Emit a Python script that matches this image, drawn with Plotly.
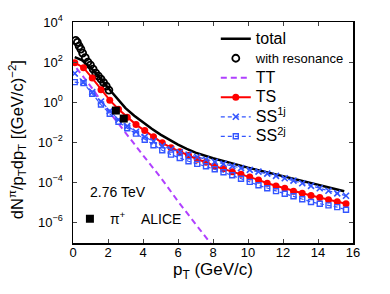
import numpy as np
import plotly.graph_objects as go

# ---- data (values given as log10 of dN/pTdpT) ----
pt_total = [0.1, 0.5, 1.0, 1.5, 2.0, 2.5, 3.0, 3.5, 4.0, 4.5, 5.0, 5.5, 6.0, 6.5,
            7.0, 8.0, 9.0, 10.0, 11.0, 12.0, 13.0, 14.0, 15.0, 15.5]
total_log10 = [2.25, 2.1, 1.72, 1.25, 0.72, 0.22, -0.3, -0.68, -1.02, -1.33, -1.62,
               -1.88, -2.12, -2.33, -2.52, -2.8, -3.04, -3.27, -3.48, -3.7, -3.92,
               -4.12, -4.33, -4.45]

pt_res = [0.15, 0.25, 0.35, 0.45, 0.55, 0.7, 0.85, 1.0, 1.15, 1.3, 1.45, 1.6, 1.75, 1.9, 2.05]
res_log10 = [3.08, 2.98, 2.8, 2.65, 2.45, 2.22, 2.0, 1.85, 1.65, 1.45, 1.3, 1.15, 0.97, 0.8, 0.6]

pt_tt = [0.2, 1.0, 2.0, 3.0, 4.0, 5.0, 6.0, 7.0, 8.0]
tt_log10 = [1.7, 0.8, -0.4, -1.55, -2.65, -3.75, -4.95, -6.08, -7.2]

pt_grid = [0.1, 0.6, 1.1, 1.6, 2.1, 2.6, 3.1, 3.6, 4.1, 4.6, 5.1, 5.6, 6.1, 6.6, 7.1, 7.6,
           8.1, 8.6, 9.1, 9.6, 10.1, 10.6, 11.1, 11.6, 12.1, 12.6, 13.1, 13.6, 14.1, 14.6,
           15.1, 15.6]
ts_log10 = [1.97, 1.72, 1.2, 0.62, 0.1, -0.35, -0.75, -1.12, -1.42, -1.73, -2.03, -2.27,
            -2.47, -2.65, -2.85, -3.0, -3.2, -3.33, -3.47, -3.6, -3.73, -3.88, -4.05,
            -4.18, -4.3, -4.45, -4.55, -4.66, -4.76, -4.87, -4.97, -5.07]
ss1_log10 = [1.43, 1.0, 0.5, 0.03, -0.45, -0.88, -1.2, -1.48, -1.73, -1.96, -2.18, -2.35,
             -2.5, -2.62, -2.74, -2.86, -2.98, -3.08, -3.19, -3.29, -3.38, -3.47, -3.57,
             -3.68, -3.8, -3.92, -4.05, -4.18, -4.3, -4.42, -4.55, -4.67]
ss2_log10 = [1.0, 0.95, 0.42, -0.12, -0.58, -0.98, -1.3, -1.57, -1.88, -2.15, -2.4, -2.62,
             -2.79, -2.95, -3.08, -3.2, -3.35, -3.5, -3.65, -3.82, -3.98, -4.15, -4.3,
             -4.44, -4.57, -4.7, -4.85, -4.98, -5.07, -5.15, -5.24, -5.37]

pt_alice = [2.45, 2.9]
alice_log10 = [-0.42, -0.82]

x_ticks = [0, 2, 4, 6, 8, 10, 12, 14, 16]
y_ticks = [1e-6, 1e-4, 1e-2, 1e0, 1e2, 1e4]
y_ticktext = ["10<sup>\u22126</sup>", "10<sup>\u22124</sup>", "10<sup>\u22122</sup>",
              "10<sup>0</sup>", "10<sup>2</sup>", "10<sup>4</sup>"]

FONT = "Arial, Liberation Sans, Helvetica, sans-serif"
BLUE = "#3355ff"
PURPLE = "#b040ff"
NB = "\u00a0"


def v(a):
    return 10 ** np.array(a, dtype=float)


def big(s, px=16):
    return f"<span style='font-size:{px}px'>{s}</span>"


fig = go.Figure()
fig.add_trace(go.Scatter(x=pt_total, y=v(total_log10), mode="lines", name=big("total"),
                         line=dict(color="black", width=2.5)))
fig.add_trace(go.Scatter(x=pt_res, y=v(res_log10), mode="markers",
                         name=big("with resonance", 13),
                         marker=dict(symbol="circle-open", color="black", size=7,
                                     line=dict(width=1.8, color="black"))))
fig.add_trace(go.Scatter(x=pt_tt, y=v(tt_log10), mode="lines", name=big("TT"),
                         line=dict(color=PURPLE, width=2, dash="6px,4px")))
fig.add_trace(go.Scatter(x=pt_grid, y=v(ts_log10), mode="lines+markers", name=big("TS"),
                         line=dict(color="red", width=2),
                         marker=dict(symbol="circle", color="red", size=7)))
fig.add_trace(go.Scatter(x=pt_grid, y=v(ss1_log10), mode="lines+markers",
                         name=big("SS<sup>1j</sup>"),
                         line=dict(color=BLUE, width=1.2, dash="4px,3px"),
                         marker=dict(symbol="x-thin", color=BLUE, size=6,
                                     line=dict(width=1.6, color=BLUE))))
fig.add_trace(go.Scatter(x=pt_grid, y=v(ss2_log10), mode="lines+markers",
                         name=big("SS<sup>2j</sup>"),
                         line=dict(color=BLUE, width=1.2, dash="4px,3px"),
                         marker=dict(symbol="square-open", color=BLUE, size=5,
                                     line=dict(width=1.4, color=BLUE))))
fig.add_trace(go.Scatter(x=pt_alice, y=v(alice_log10), mode="markers",
                         name="\u03c0<sup>+</sup>" + NB * 4 + "ALICE", legend="legend2",
                         marker=dict(symbol="square", color="black", size=8)))

W, H = 390, 294
ML, MR, MT, MB = 73, 37, 22, 51.3
PW, PH = W - ML - MR, H - MT - MB

fig.update_layout(
    width=W, height=H,
    margin=dict(l=ML, r=MR, t=MT, b=MB, autoexpand=False),
    paper_bgcolor="white", plot_bgcolor="white",
    font=dict(family=FONT, color="black", size=13),
    hovermode=False,
    showlegend=True,
    legend=dict(x=0.51, y=0.991, xanchor="left", yanchor="top",
                bgcolor="rgba(0,0,0,0)", font=dict(size=12.7, family=FONT),
                tracegroupgap=0),
    legend2=dict(x=-0.011, y=0.18, xanchor="left", yanchor="top",
                 bgcolor="rgba(0,0,0,0)", font=dict(size=14, family=FONT)),
    annotations=[
        dict(text="2.76 TeV", x=(88 - ML) / PW, y=(242.7 - 192) / PH,
             xref="paper", yref="paper", xanchor="left", yanchor="middle",
             showarrow=False, font=dict(size=14)),
        dict(text="dN<sup>\u03c0</sup>/p<sub>T</sub>dp<sub>T</sub> [(GeV/c)<sup>\u22122</sup>]",
             x=(17 - ML) / PW, y=(242.7 - 140) / PH, xref="paper", yref="paper",
             xanchor="center", yanchor="middle", textangle=-90,
             showarrow=False, font=dict(size=16.5)),
    ],
    xaxis=dict(range=[0, 16], tickvals=x_ticks, ticks="inside", ticklen=4,
               showline=True, linecolor="black", linewidth=1.5, mirror="ticks",
               showgrid=False, zeroline=False, tickfont=dict(size=13), automargin=False,
               ticklabelstandoff=-3,
               title=dict(text="p<sub>T</sub> (GeV/c)", font=dict(size=17), standoff=2)),
    yaxis=dict(type="log", range=[-7.03, 4], tickvals=y_ticks, ticktext=y_ticktext,
               ticks="inside", ticklen=4, showline=True, linecolor="black",
               linewidth=1.5, mirror="ticks", showgrid=False, zeroline=False,
               tickfont=dict(size=13), automargin=False, ticklabelstandoff=6),
)

# remove the default 8px page margin so the figure fills the window exactly
fig.write_html("out.html", config={"displayModeBar": False, "staticPlot": True},
               post_script="document.body.style.margin='0px';")
